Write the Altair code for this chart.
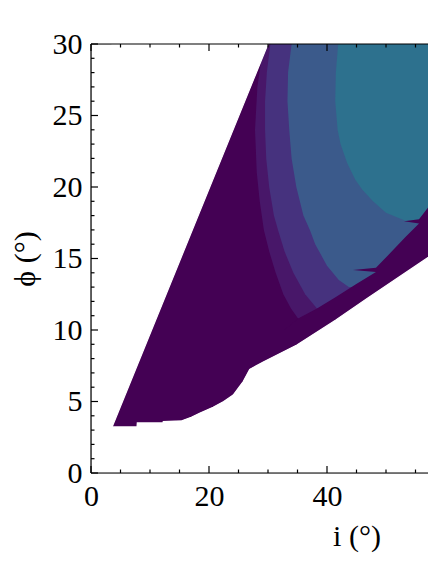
import altair as alt
import pandas as pd

# ---------------- data ----------------
# axis ticks
x_major = [0, 20, 40, 60, 80]
x_minor = [5, 10, 15, 25, 30, 35, 45, 50, 55, 65, 70, 75, 85]
y_major = [0, 5, 10, 15, 20, 25, 30]
y_minor = [1, 2, 3, 4, 6, 7, 8, 9, 11, 12, 13, 14, 16, 17, 18, 19,
           21, 22, 23, 24, 26, 27, 28, 29]

# left (upper-left) edge of the allowed region
edge_x = [3.56, 30.0]
edge_y = [3.2, 30.0]

# lower edge of the allowed region
bottom_x = [3.56, 7.8, 7.85, 12.2, 12.25, 15.4, 17.0, 18.5, 20.7, 22.5, 24.1,
            25.1, 25.8, 26.9, 29.2, 34.9, 41.5, 46.8, 58.5, 70.0, 90.0]
bottom_y = [3.22, 3.22, 3.5, 3.5, 3.6, 3.65, 3.9, 4.2, 4.6, 5.0, 5.45,
            6.0, 6.4, 7.25, 7.76, 8.95, 10.7, 12.2, 15.45, 18.8, 24.5]

# upper edge of the dark lower band (with its notches)
band_y = [10.0, 10.8, 11.5, 12.3, 13.2, 14.06, 14.2, 14.35, 15.5, 16.5,
          17.45, 17.6, 17.75, 18.5, 19.3, 21.0, 24.0, 30.0]
band_x = [32.8, 35.1, 38.3, 41.5, 44.9, 48.3, 44.4, 48.3, 51.0, 53.3,
          55.6, 53.05, 55.6, 57.0, 58.5, 61.0, 65.0, 72.0]

# left edges of the contour levels
lev1_y = [10.8, 11.5, 12.5, 14.0, 15.5, 17.0, 19.0, 21.0, 24.0, 27.0, 29.0, 30.0]
lev1_x = [35.1, 33.9, 32.6, 31.3, 30.2, 29.3, 28.6, 28.1, 27.8, 28.2, 28.9, 29.5]

lev2_y = [11.5, 12.5, 14.0, 15.5, 17.0, 18.0, 20.0, 22.0, 24.0, 26.0, 28.0, 30.0]
lev2_x = [38.3, 36.3, 34.3, 32.8, 31.7, 31.0, 30.2, 29.7, 29.5, 29.5, 29.8, 30.4]

lev3_y = [13.0, 13.5, 14.5, 16.0, 17.0, 18.0, 20.0, 22.0, 24.0, 26.0, 28.0, 30.0]
lev3_x = [43.7, 42.0, 40.0, 38.0, 37.1, 36.0, 34.8, 34.0, 33.6, 33.3, 33.4, 34.0]

lev4_y = [17.6, 18.2, 19.0, 19.8, 20.5, 21.7, 23.0, 24.0, 26.0, 28.0, 30.0]
lev4_x = [53.5, 50.0, 47.8, 46.0, 44.8, 43.4, 42.3, 41.8, 41.4, 41.5, 41.9]

# ---------------- styling ----------------
PX_PER_DEG = 5.9
VIEW_W = 337            # visible part of the plot area (the rest is cut off)
FULL_W = 90 * PX_PER_DEG
H = 429
FONT = "Liberation Serif"
C0, C1, C2, C3, C4 = "#440154", "#481769", "#46327e", "#3b5a8b", "#2d718e"

xs = alt.Scale(domain=[0, 90], range=[0, FULL_W], nice=False, zero=False)
ys = alt.Scale(domain=[0, 30], nice=False, zero=False)
xaxis = alt.Axis(title="i (°)", values=x_major, ticks=False, domain=False, grid=False,
                 labelFont=FONT, labelFontSize=30, labelColor="black", labelPadding=8,
                 labelFlush=False, labelOverlap=False, labelBound=False,
                 titleFont=FONT, titleFontSize=30, titleFontWeight="normal",
                 titleColor="black", titlePadding=10, titleX=FULL_W / 2, zindex=2)
yaxis = alt.Axis(title="ϕ (°)", values=y_major, ticks=False, domain=False, grid=False,
                 labelFont=FONT, labelFontSize=30, labelColor="black", labelPadding=9,
                 labelFlush=False, labelOverlap=False,
                 titleFont=FONT, titleFontSize=30, titleFontWeight="normal",
                 titleColor="black", titlePadding=12, zindex=2)
X = alt.X("x:Q", scale=xs, axis=xaxis)
Y = alt.Y("y:Q", scale=ys, axis=yaxis)


def df(xv, yv):
    return pd.DataFrame({"x": xv, "y": yv})


dark = alt.Chart(df(bottom_x, bottom_y)).mark_area(color=C0, clip=True).encode(
    x=X, y=Y, y2=alt.datum(30))


def level(xv, yv, col):
    return alt.Chart(df(xv, yv)).mark_area(color=col, orient="horizontal", clip=True).encode(
        x=X, y=Y, x2=alt.datum(90))


l1 = level(lev1_x, lev1_y, C1)
l2 = level(lev2_x, lev2_y, C2)
l3 = level(lev3_x, lev3_y, C3)
l4 = level(lev4_x, lev4_y, C4)
band = level(band_x, band_y, C0)

white_bottom = alt.Chart(df(bottom_x, bottom_y)).mark_area(
    color="white", stroke="white", strokeWidth=1.2, clip=True).encode(
    x=X, y=Y, y2=alt.datum(0))
white_top = alt.Chart(df(edge_x, edge_y)).mark_area(
    color="white", stroke="white", strokeWidth=1.2, clip=True).encode(
    x=X, y=Y, y2=alt.datum(30))

xmaj = pd.DataFrame({"x": x_major})
xmin = pd.DataFrame({"x": x_minor})
ymaj = pd.DataFrame({"y": y_major})
ymin = pd.DataFrame({"y": y_minor})

SW = 1.2
ticks = []
for d, ln in ((xmaj, 7), (xmin, 3.5)):
    ticks.append(alt.Chart(d).mark_rule(color="black", strokeWidth=SW).encode(
        x=X, y=alt.value(H), y2=alt.value(H - ln)))
    ticks.append(alt.Chart(d).mark_rule(color="black", strokeWidth=SW).encode(
        x=X, y=alt.value(0), y2=alt.value(ln)))
for d, ln in ((ymaj, 7), (ymin, 3.5)):
    ticks.append(alt.Chart(d).mark_rule(color="black", strokeWidth=SW).encode(
        y=Y, x=alt.value(0), x2=alt.value(ln)))

frame_src = pd.DataFrame({"x": [0]})
frame = [
    alt.Chart(frame_src).mark_rule(color="black", strokeWidth=SW).encode(
        x=alt.value(0), x2=alt.value(FULL_W), y=alt.value(0)),
    alt.Chart(frame_src).mark_rule(color="black", strokeWidth=SW).encode(
        x=alt.value(0), x2=alt.value(FULL_W), y=alt.value(H)),
    alt.Chart(frame_src).mark_rule(color="black", strokeWidth=SW).encode(
        x=alt.value(0), y=alt.value(0), y2=alt.value(H)),
]

chart = alt.layer(dark, l1, l2, l3, l4, band, white_bottom, white_top, *ticks, *frame).properties(
    width=VIEW_W, height=H,
    autosize=alt.AutoSizeParams(type="none"),
    padding={"left": 83, "top": 36, "right": 0, "bottom": 83},
).configure_view(stroke=None).configure(background="white")

chart.save("out.html", embed_options={"renderer": "svg", "actions": False})
